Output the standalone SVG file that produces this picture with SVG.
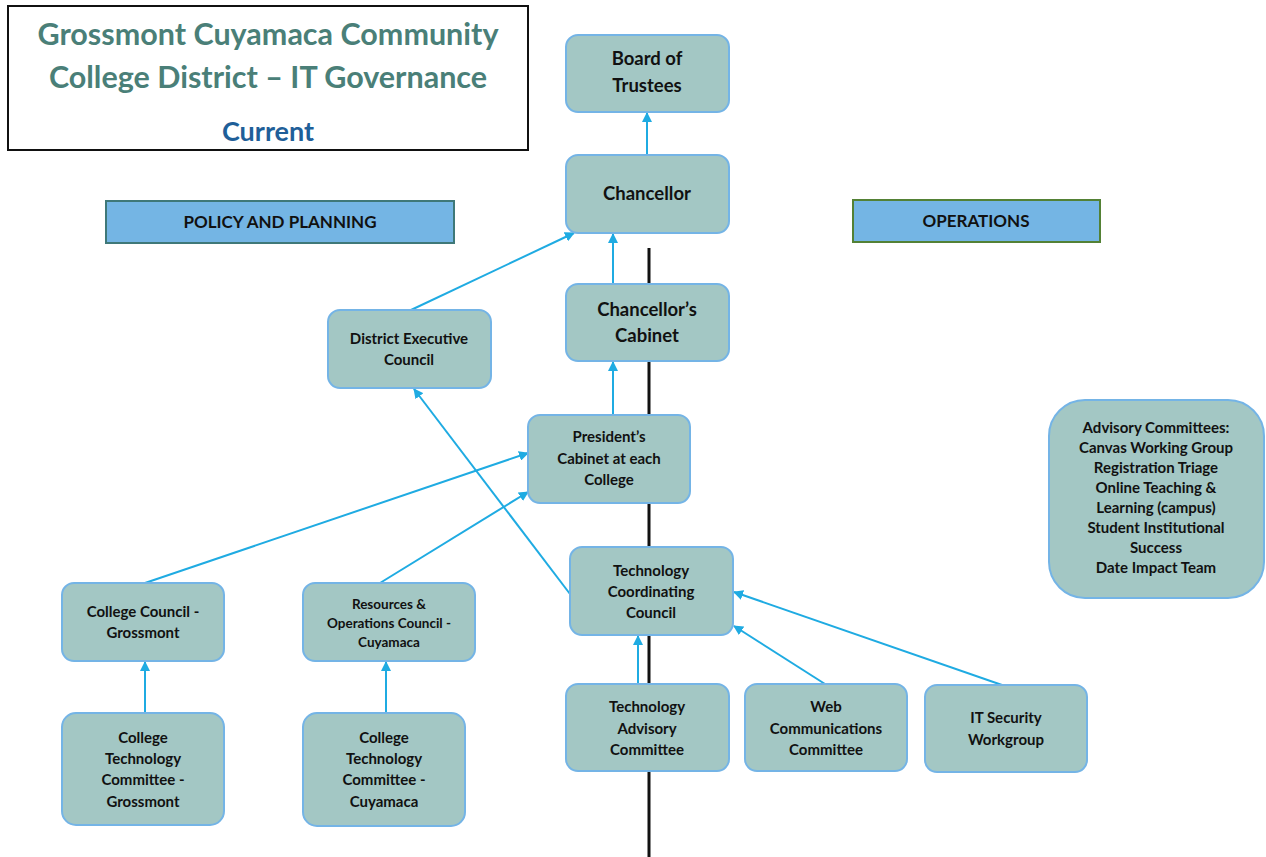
<svg xmlns="http://www.w3.org/2000/svg" width="1266" height="857" viewBox="0 0 1266 857">
<style>
text{font-family:Lato,"Liberation Sans",sans-serif;font-weight:bold;text-anchor:middle;fill:#111}
.n{fill:#a3c7c4;stroke:#74b4e6;stroke-width:2}
.t{font-size:18.5px}
.h{font-size:17px}
.s{font-size:15px}
.xs{font-size:13.5px}
.c{stroke:#1fabe2;stroke-width:2;fill:none;marker-end:url(#a)}
</style>
<defs>
<marker id="a" markerWidth="10" markerHeight="10" refX="9" refY="5" orient="auto" markerUnits="userSpaceOnUse">
<path d="M0,0 L10,5 L0,10 z" fill="#1fabe2"/>
</marker>
</defs>
<rect width="1266" height="857" fill="#fff"/>
<line x1="649" y1="248" x2="649" y2="857" stroke="#111" stroke-width="3"/>
<g id="title">
<rect x="8" y="6" width="520" height="144" fill="#fff" stroke="#111" stroke-width="2"/>
<text x="268" y="45" style="font-size:30.5px;fill:#4a7f78">Grossmont Cuyamaca Community</text>
<text x="268" y="88" style="font-size:30.5px;fill:#4a7f78">College District – IT Governance</text>
<text x="268" y="141" style="font-size:27px;fill:#1f5f99">Current</text>
</g>
<g id="policy">
<rect x="106" y="201" width="348" height="42" fill="#74b5e4" stroke="#3f7878" stroke-width="2"/>
<text x="280" y="228" class="h">POLICY AND PLANNING</text>
</g>
<g id="operations">
<rect x="853" y="200" width="247" height="42" fill="#74b5e4" stroke="#538135" stroke-width="2"/>
<text x="976" y="227" class="h">OPERATIONS</text>
</g>
<g id="connectors">
<line class="c" x1="647" y1="155" x2="647" y2="113"/>
<line class="c" x1="613" y1="284" x2="613" y2="234"/>
<line class="c" x1="411" y1="310" x2="574" y2="233"/>
<line class="c" x1="613" y1="415" x2="613" y2="362"/>
<line class="c" x1="570" y1="594" x2="414" y2="389"/>
<line class="c" x1="145" y1="583" x2="528" y2="453"/>
<line class="c" x1="380" y1="583" x2="528" y2="492"/>
<line class="c" x1="145" y1="713" x2="145" y2="662"/>
<line class="c" x1="386" y1="713" x2="386" y2="662"/>
<line class="c" x1="638" y1="684" x2="638" y2="636"/>
<line class="c" x1="825" y1="684" x2="734" y2="626"/>
<line class="c" x1="1002" y1="685" x2="734" y2="592"/>
</g>
<g id="board">
<rect class="n" x="566" y="35" width="163" height="77" rx="12"/>
<text x="647" y="65" class="t">Board of</text>
<text x="647" y="92" class="t">Trustees</text>
</g>
<g id="chancellor">
<rect class="n" x="566" y="155" width="163" height="78" rx="12"/>
<text x="647" y="200" class="t">Chancellor</text>
</g>
<g id="cabinet">
<rect class="n" x="566" y="284" width="163" height="77" rx="12"/>
<text x="647" y="316" class="t">Chancellor’s</text>
<text x="647" y="342" class="t">Cabinet</text>
</g>
<g id="dec">
<rect class="n" x="328" y="310" width="163" height="78" rx="12"/>
<text x="409" y="344" class="s">District Executive</text>
<text x="409" y="365" class="s">Council</text>
</g>
<g id="president">
<rect class="n" x="528" y="415" width="162" height="88" rx="12"/>
<text x="609" y="442" class="s">President’s</text>
<text x="609" y="464" class="s">Cabinet at each</text>
<text x="609" y="485" class="s">College</text>
</g>
<g id="tcc">
<rect class="n" x="570" y="547" width="163" height="88" rx="12"/>
<text x="651" y="576" class="s">Technology</text>
<text x="651" y="597" class="s">Coordinating</text>
<text x="651" y="618" class="s">Council</text>
</g>
<g id="cc-grossmont">
<rect class="n" x="62" y="583" width="162" height="78" rx="12"/>
<text x="143" y="617" class="s">College Council -</text>
<text x="143" y="638" class="s">Grossmont</text>
</g>
<g id="roc-cuyamaca">
<rect class="n" x="303" y="583" width="172" height="78" rx="12"/>
<text x="389" y="609" class="xs">Resources &amp;</text>
<text x="389" y="628" class="xs">Operations Council -</text>
<text x="389" y="647" class="xs">Cuyamaca</text>
</g>
<g id="ctc-grossmont">
<rect class="n" x="62" y="713" width="162" height="112" rx="14"/>
<text x="143" y="743" class="s">College</text>
<text x="143" y="764" class="s">Technology</text>
<text x="143" y="785" class="s">Committee -</text>
<text x="143" y="807" class="s">Grossmont</text>
</g>
<g id="ctc-cuyamaca">
<rect class="n" x="303" y="713" width="162" height="113" rx="14"/>
<text x="384" y="743" class="s">College</text>
<text x="384" y="764" class="s">Technology</text>
<text x="384" y="785" class="s">Committee -</text>
<text x="384" y="807" class="s">Cuyamaca</text>
</g>
<g id="tac">
<rect class="n" x="566" y="684" width="163" height="87" rx="12"/>
<text x="647" y="712" class="s">Technology</text>
<text x="647" y="734" class="s">Advisory</text>
<text x="647" y="755" class="s">Committee</text>
</g>
<g id="web">
<rect class="n" x="745" y="684" width="162" height="87" rx="12"/>
<text x="826" y="712" class="s">Web</text>
<text x="826" y="734" class="s">Communications</text>
<text x="826" y="755" class="s">Committee</text>
</g>
<g id="itsec">
<rect class="n" x="925" y="685" width="162" height="87" rx="12"/>
<text x="1006" y="723" class="s">IT Security</text>
<text x="1006" y="745" class="s">Workgroup</text>
</g>
<g id="advisory">
<rect class="n" x="1049" y="400" width="215" height="198" rx="36"/>
<text x="1156" y="433" class="s">Advisory Committees:</text>
<text x="1156" y="453" class="s">Canvas Working Group</text>
<text x="1156" y="473" class="s">Registration Triage</text>
<text x="1156" y="493" class="s">Online Teaching &amp;</text>
<text x="1156" y="513" class="s">Learning (campus)</text>
<text x="1156" y="533" class="s">Student Institutional</text>
<text x="1156" y="553" class="s">Success</text>
<text x="1156" y="573" class="s">Date Impact Team</text>
</g>
</svg>
